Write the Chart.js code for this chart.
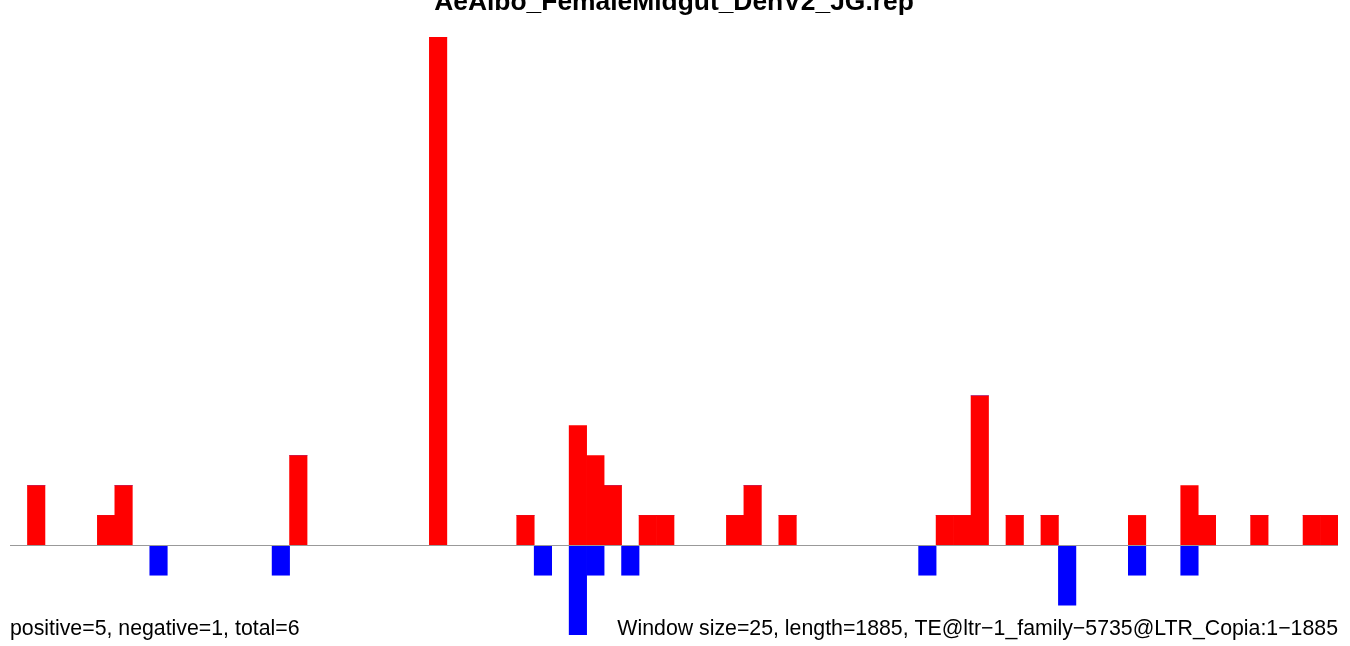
<!DOCTYPE html>
<html>
<head>
<meta charset="utf-8">
<script src="https://cdn.jsdelivr.net/npm/chart.js@4"></script>
<style>
  html, body { margin: 0; padding: 0; background: #fff; }
  #wrap { width: 1350px; height: 646px; position: relative; }
</style>
</head>
<body>
<div id="wrap"><canvas id="chart" width="1350" height="646"></canvas></div>
<script>
// window starts (window size 25, length 1885 -> 76 windows)
const windowStarts = [];
for (let i = 0; i < 76; i++) windowStarts.push(i * 25 + 1);

// counts per window
const positiveCounts = [
  0, 2, 0, 0, 0, 1, 2, 0, 0, 0,
  0, 0, 0, 0, 0, 0, 3, 0, 0, 0,
  0, 0, 0, 0, 17, 0, 0, 0, 0, 1,
  0, 0, 4, 3, 2, 0, 1, 1, 0, 0,
  0, 1, 2, 0, 1, 0, 0, 0, 0, 0,
  0, 0, 0, 1, 1, 5, 0, 1, 0, 1,
  0, 0, 0, 0, 1, 0, 0, 2, 1, 0,
  0, 1, 0, 0, 1, 1
];
const negativeCounts = [
  0, 0, 0, 0, 0, 0, 0, 0, -1, 0,
  0, 0, 0, 0, 0, -1, 0, 0, 0, 0,
  0, 0, 0, 0, 0, 0, 0, 0, 0, 0,
  -1, 0, -3, -1, 0, -1, 0, 0, 0, 0,
  0, 0, 0, 0, 0, 0, 0, 0, 0, 0,
  0, 0, -1, 0, 0, 0, 0, 0, 0, 0,
  -2, 0, 0, 0, -1, 0, 0, -1, 0, 0,
  0, 0, 0, 0, 0, 0
];

const titleText = 'AeAlbo_FemaleMidgut_DenV2_JG.rep';
const leftNote = 'positive=5, negative=1, total=6';
const rightNote = 'Window size=25, length=1885, TE@ltr\u22121_family\u22125735@LTR_Copia:1\u22121885';

// zero line + title + footer texts
const decorations = {
  id: 'decorations',
  afterDatasetsDraw(chart) {
    const ctx = chart.ctx;
    const area = chart.chartArea;
    const y0 = Math.round(chart.scales.y.getPixelForValue(0)) + 0.5;
    ctx.save();
    ctx.strokeStyle = '#999999';
    ctx.lineWidth = 1;
    ctx.beginPath();
    ctx.moveTo(area.left, y0);
    ctx.lineTo(area.right, y0);
    ctx.stroke();
    ctx.restore();
  },
  afterDraw(chart) {
    const ctx = chart.ctx;
    const area = chart.chartArea;
    ctx.save();
    ctx.fillStyle = '#000';
    ctx.textBaseline = 'alphabetic';
    ctx.font = 'bold 26.4px "Liberation Sans", Arial, sans-serif';
    ctx.textAlign = 'center';
    ctx.fillText(titleText, (area.left + area.right) / 2, 10);
    ctx.font = '21.3px "Liberation Sans", Arial, sans-serif';
    ctx.textAlign = 'left';
    ctx.fillText(leftNote, area.left, 635);
    ctx.textAlign = 'right';
    ctx.fillText(rightNote, area.right, 635);
    ctx.restore();
  }
};

new Chart(document.getElementById('chart').getContext('2d'), {
  type: 'bar',
  data: {
    labels: windowStarts,
    datasets: [
      { label: 'positive', data: positiveCounts, backgroundColor: '#ff0000', borderWidth: 0 },
      { label: 'negative', data: negativeCounts, backgroundColor: '#0000ff', borderWidth: 0 }
    ]
  },
  options: {
    responsive: false,
    animation: false,
    layout: { padding: { left: 10, right: 12, top: 37, bottom: 11 } },
    datasets: { bar: { barPercentage: 1, categoryPercentage: 1 } },
    plugins: { legend: { display: false }, tooltip: { enabled: false }, title: { display: false } },
    scales: {
      x: { stacked: true, display: false, offset: true },
      y: { stacked: true, display: false, min: -3, max: 17 }
    }
  },
  plugins: [decorations]
});
</script>
</body>
</html>
